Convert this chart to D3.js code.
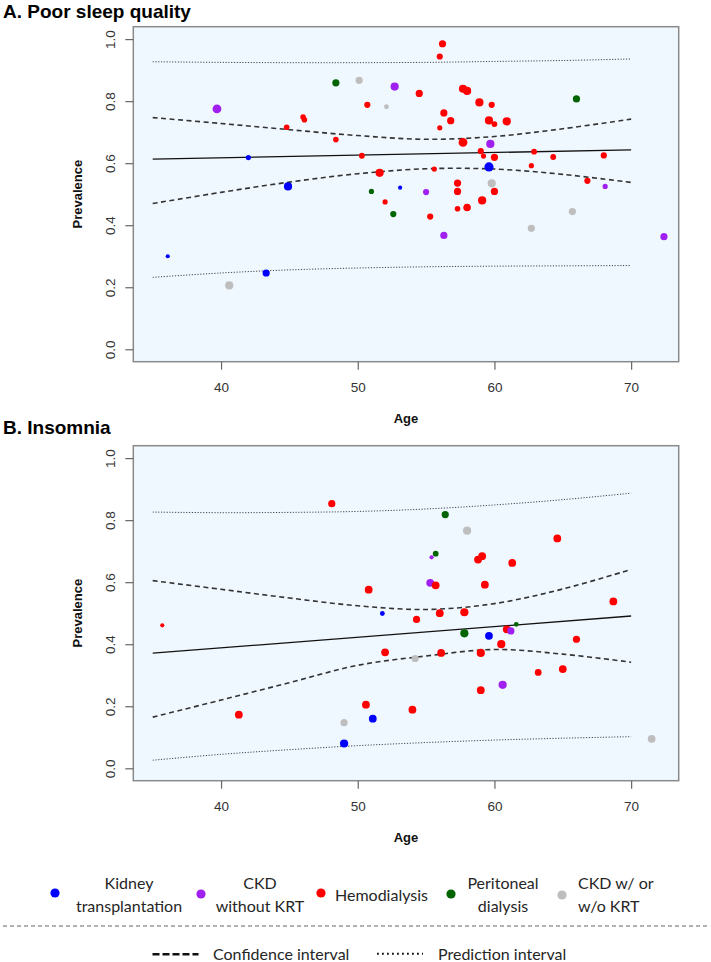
<!DOCTYPE html>
<html>
<head>
<meta charset="utf-8">
<script src="https://cdn.jsdelivr.net/npm/d3@7"></script>
<style>
  html, body { margin: 0; padding: 0; background: #ffffff; }
  svg { display: block; }
</style>
</head>
<body>
<script>
// ---------------- DATA ----------------
const groupNames = ["Kidney transplantation", "CKD without KRT", "Hemodialysis", "Peritoneal dialysis", "CKD w/ or w/o KRT"];
const groupCodes = ["K", "C", "H", "P", "M"];

// Panel A: Poor sleep quality
const ageA   = [39.7, 48.4, 50.1, 50.7, 46.0, 46.1, 44.8, 48.4, 42.0, 50.3, 44.9, 36.1, 43.3, 40.6, 56.2, 56.0, 52.7, 54.5, 52.1, 57.7, 58.0, 58.9, 59.8, 56.3, 56.8, 56.0, 59.6, 60.0, 60.9, 57.7, 59.7, 59.0, 59.2, 60.0, 62.9, 64.3, 62.7, 59.6, 51.6, 55.6, 51.0, 53.1, 55.0, 57.3, 57.3, 59.8, 60.0, 52.0, 52.6, 55.3, 57.3, 58.0, 59.1, 56.3, 62.7, 65.7, 66.8, 68.1, 72.4, 66.0, 68.0];
const prevA  = [0.775, 0.859, 0.867, 0.788, 0.749, 0.740, 0.716, 0.676, 0.618, 0.624, 0.525, 0.300, 0.246, 0.206, 0.985, 0.944, 0.847, 0.825, 0.782, 0.840, 0.833, 0.796, 0.788, 0.762, 0.737, 0.714, 0.738, 0.726, 0.735, 0.667, 0.662, 0.639, 0.623, 0.619, 0.637, 0.620, 0.592, 0.588, 0.569, 0.581, 0.509, 0.521, 0.507, 0.536, 0.509, 0.535, 0.509, 0.475, 0.436, 0.428, 0.453, 0.457, 0.480, 0.367, 0.390, 0.444, 0.543, 0.525, 0.363, 0.807, 0.625];
const groupA = ["C","P","M","H","H","H","H","H","K","H","K","K","K","M","H","H","C","H","M","H","H","H","H","H","H","H","H","H","H","H","C","H","H","H","H","H","H","K","H","H","P","K","C","H","H","M","H","H","P","H","H","H","H","C","M","M","H","C","C","P","H"];
const weightA = [4.3, 3.5, 3.5, 3.0, 2.7, 2.7, 2.7, 2.7, 2.5, 2.8, 4.0, 2.0, 3.5, 4.0, 3.5, 3.0, 4.0, 3.5, 2.3, 4.0, 4.0, 4.0, 3.0, 3.5, 3.5, 2.5, 4.0, 2.8, 4.0, 4.3, 4.0, 3.0, 2.5, 3.5, 2.8, 2.8, 2.5, 4.5, 4.0, 2.5, 2.5, 2.0, 3.0, 3.5, 3.5, 4.0, 3.5, 2.5, 3.0, 3.0, 2.7, 3.7, 4.0, 3.5, 3.5, 3.5, 3.0, 2.5, 3.5, 3.5, 3.0];

// Panel B: Insomnia
const ageB   = [48.1, 56.4, 58.0, 64.6, 55.7, 55.4, 58.8, 59.1, 61.3, 50.8, 55.3, 55.7, 59.3, 68.7, 35.7, 41.3, 49.0, 49.0, 51.8, 54.3, 56.0, 57.8, 57.8, 59.6, 60.9, 61.2, 61.6, 60.5, 66.0, 52.0, 56.1, 59.0, 54.2, 63.2, 65.0, 59.0, 60.6, 50.6, 51.1, 54.0, 71.5];
const prevB  = [0.853, 0.818, 0.766, 0.741, 0.692, 0.680, 0.673, 0.684, 0.662, 0.576, 0.598, 0.590, 0.592, 0.538, 0.461, 0.173, 0.147, 0.080, 0.499, 0.480, 0.500, 0.503, 0.435, 0.427, 0.448, 0.443, 0.464, 0.400, 0.416, 0.374, 0.372, 0.372, 0.354, 0.309, 0.320, 0.252, 0.269, 0.205, 0.160, 0.189, 0.095];
const groupB = ["H","P","M","H","P","C","H","H","H","H","C","H","H","H","H","H","M","K","K","H","H","H","P","K","H","C","P","H","H","H","H","H","M","H","H","H","C","H","K","H","M"];
const weightB = [3.5, 3.5, 4.0, 3.8, 2.8, 2.0, 3.8, 3.8, 3.8, 3.8, 3.8, 3.8, 3.8, 3.8, 2.0, 3.8, 3.5, 4.0, 2.3, 3.5, 3.8, 4.0, 4.0, 3.8, 3.8, 3.5, 2.3, 4.0, 3.5, 3.8, 3.8, 4.0, 3.5, 3.3, 3.8, 3.8, 4.0, 3.8, 3.8, 3.8, 3.8];

// Meta-regression fit and intervals
const fitAges   = [35, 70];
const fitA      = [0.613, 0.643];
const fitB      = [0.371, 0.491];
const bandAges  = [35, 40, 45, 50, 55, 60, 65, 70];
const ciUpA = [0.747, 0.728, 0.708, 0.689, 0.677, 0.686, 0.711, 0.742];
const ciLoA = [0.470, 0.506, 0.539, 0.566, 0.582, 0.581, 0.564, 0.538];
const piUpA = [0.927, 0.925, 0.924, 0.924, 0.925, 0.928, 0.931, 0.936];
const piLoA = [0.232, 0.246, 0.256, 0.262, 0.266, 0.268, 0.269, 0.270];
const ciUpB = [0.605, 0.577, 0.549, 0.524, 0.512, 0.531, 0.578, 0.641];
const ciLoB = [0.165, 0.220, 0.276, 0.332, 0.362, 0.383, 0.368, 0.342];
const piUpB = [0.826, 0.824, 0.825, 0.828, 0.836, 0.849, 0.866, 0.887];
const piLoB = [0.026, 0.045, 0.060, 0.073, 0.083, 0.091, 0.097, 0.102];

const xTicks = [40, 50, 60, 70];
const yTicks = [0.0, 0.2, 0.4, 0.6, 0.8, 1.0];

// ---------------- DRAWING ----------------
const W = 711, H = 962;
const svg = d3.select("body").append("svg").attr("width", W).attr("height", H);

const color = d3.scaleOrdinal().domain(groupCodes)
  .range(["#0000FF", "#A020F0", "#FF0000", "#006400", "#BEBEBE"]);
const rScale = d3.scaleLinear().domain([2, 4.5]).range([2.1, 4.6]);

const plotLeft = 133.3, plotRight = 678.7;
const x = d3.scaleLinear().domain([33.58, 73.48]).range([plotLeft, plotRight]);

function drawPanel(top, title, titleY, ages, prevs, groups, weights, fit, ciUp, ciLo, piUp, piLo) {
  const bottom = top + 335;
  const y = d3.scaleLinear().domain([-0.04, 1.04]).range([bottom, top]);
  const g = svg.append("g");

  g.append("text").attr("x", 3).attr("y", titleY)
    .attr("font-family", "Liberation Sans, Arial, sans-serif")
    .attr("font-weight", "bold").attr("font-size", 19).attr("fill", "#000")
    .text(title);

  g.append("rect").attr("x", plotLeft).attr("y", top)
    .attr("width", plotRight - plotLeft).attr("height", bottom - top)
    .attr("fill", "#F0F8FF");

  // Prediction interval (dotted)
  const line = d3.line().x(d => x(d[0])).y(d => y(d[1])).curve(d3.curveCatmullRom);
  [piUp, piLo].forEach(arr => {
    g.append("path").datum(bandAges.map((a, i) => [a, arr[i]]))
      .attr("d", line).attr("fill", "none")
      .attr("stroke", "#444").attr("stroke-width", 1).attr("stroke-dasharray", "1.2,1.6");
  });
  // Confidence interval (dashed)
  [ciUp, ciLo].forEach(arr => {
    g.append("path").datum(bandAges.map((a, i) => [a, arr[i]]))
      .attr("d", line).attr("fill", "none")
      .attr("stroke", "#333").attr("stroke-width", 1.6).attr("stroke-dasharray", "5,3.5");
  });
  // Fit line
  g.append("path").datum(fitAges.map((a, i) => [a, fit[i]]))
    .attr("d", d3.line().x(d => x(d[0])).y(d => y(d[1])))
    .attr("fill", "none").attr("stroke", "#111").attr("stroke-width", 1.3);

  // Points
  const pts = ages.map((a, i) => ({ a, p: prevs[i], g: groups[i], w: weights[i] }));
  g.append("g").selectAll("circle").data(pts).join("circle")
    .attr("cx", d => x(d.a)).attr("cy", d => y(d.p)).attr("r", d => rScale(d.w))
    .attr("fill", d => color(d.g));

  // Box
  g.append("rect").attr("x", plotLeft).attr("y", top)
    .attr("width", plotRight - plotLeft).attr("height", bottom - top)
    .attr("fill", "none").attr("stroke", "#8a8a8a").attr("stroke-width", 1.5);

  // Axes
  const yAxis = g.append("g").attr("transform", `translate(${plotLeft},0)`)
    .call(d3.axisLeft(y).tickValues(yTicks).tickFormat(d3.format(".1f")).tickSize(8));
  yAxis.select(".domain").remove();
  yAxis.selectAll("line").attr("stroke", "#666").attr("stroke-width", 1.2);
  yAxis.selectAll("text")
    .attr("transform", "rotate(-90)").attr("x", 0).attr("y", -18).attr("dy", 0)
    .attr("text-anchor", "middle")
    .attr("font-family", "Liberation Sans, Arial, sans-serif").attr("font-size", 13.5).attr("fill", "#333");

  const xAxis = g.append("g").attr("transform", `translate(0,${bottom})`)
    .call(d3.axisBottom(x).tickValues(xTicks).tickFormat(d3.format("d")).tickSize(8));
  xAxis.select(".domain").remove();
  xAxis.selectAll("line").attr("stroke", "#666").attr("stroke-width", 1.2);
  xAxis.selectAll("text").attr("y", 30).attr("dy", 0)
    .attr("font-family", "Liberation Sans, Arial, sans-serif").attr("font-size", 13.5).attr("fill", "#333");

  // Axis titles
  g.append("text").attr("x", (plotLeft + plotRight) / 2).attr("y", bottom + 61)
    .attr("text-anchor", "middle")
    .attr("font-family", "Liberation Sans, Arial, sans-serif").attr("font-weight", "bold")
    .attr("font-size", 13).attr("fill", "#111").text("Age");
  g.append("text")
    .attr("transform", `translate(81.5,${(top + bottom) / 2}) rotate(-90)`)
    .attr("text-anchor", "middle")
    .attr("font-family", "Liberation Sans, Arial, sans-serif").attr("font-weight", "bold")
    .attr("font-size", 13).attr("fill", "#111").text("Prevalence");
}

drawPanel(26.7, "A. Poor sleep quality", 17.5, ageA, prevA, groupA, weightA, fitA, ciUpA, ciLoA, piUpA, piLoA);
drawPanel(445.7, "B. Insomnia", 433.5, ageB, prevB, groupB, weightB, fitB, ciUpB, ciLoB, piUpB, piLoB);

// ---------------- LEGEND ----------------
const lg = svg.append("g")
  .attr("font-family", "Lato, 'Open Sans', sans-serif").attr("font-size", 16).attr("fill", "#262626");

const legendItems = [
  { code: "K", dot: [55, 893], lines: ["Kidney", "transplantation"], tx: 129, anchor: "middle" },
  { code: "C", dot: [201, 894], lines: ["CKD", "without KRT"], tx: 260, anchor: "middle" },
  { code: "H", dot: [321, 893], lines: ["Hemodialysis"], tx: 335, anchor: "start" },
  { code: "P", dot: [451, 894], lines: ["Peritoneal", "dialysis"], tx: 503, anchor: "middle" },
  { code: "M", dot: [562, 895], lines: ["CKD w/ or", "w/o KRT"], tx: 578, anchor: "start" }
];
legendItems.forEach(it => {
  lg.append("circle").attr("cx", it.dot[0]).attr("cy", it.dot[1]).attr("r", 4.6).attr("fill", color(it.code));
  if (it.lines.length === 1) {
    lg.append("text").attr("x", it.tx).attr("y", 900.5).attr("text-anchor", it.anchor).text(it.lines[0]);
  } else {
    it.lines.forEach((l, j) => {
      lg.append("text").attr("x", it.tx).attr("y", 888.5 + j * 23).attr("text-anchor", it.anchor).text(l);
    });
  }
});

svg.append("line").attr("x1", 3).attr("x2", 708).attr("y1", 926).attr("y2", 926)
  .attr("stroke", "#666").attr("stroke-width", 1).attr("stroke-dasharray", "4,3");

svg.append("line").attr("x1", 152.5).attr("x2", 198.5).attr("y1", 954.3).attr("y2", 954.3)
  .attr("stroke", "#111").attr("stroke-width", 2.6).attr("stroke-dasharray", "7,3");
lg.append("text").attr("x", 213).attr("y", 959.5).text("Confidence interval");
svg.append("line").attr("x1", 377).attr("x2", 423).attr("y1", 953.7).attr("y2", 953.7)
  .attr("stroke", "#111").attr("stroke-width", 2).attr("stroke-dasharray", "1.8,3.2");
lg.append("text").attr("x", 438).attr("y", 959.5).text("Prediction interval");
</script>
</body>
</html>
